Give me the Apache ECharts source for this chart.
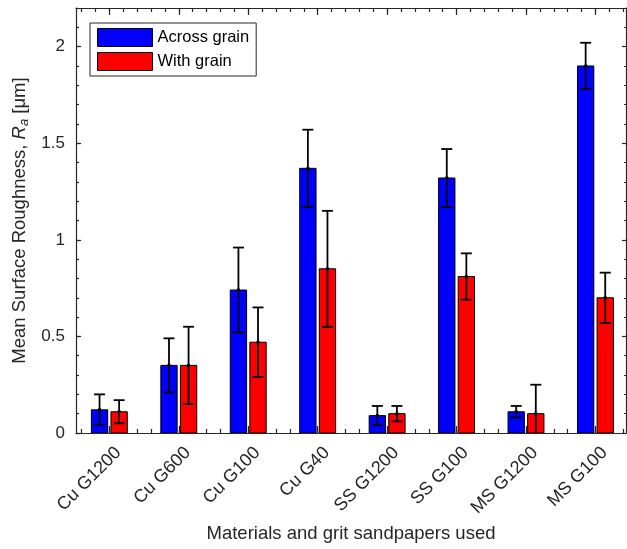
<!DOCTYPE html>
<html>
<head>
<meta charset="utf-8">
<script src="https://cdn.jsdelivr.net/npm/echarts@6/dist/echarts.min.js"></script>
<style>
html, body { margin: 0; padding: 0; background: #fff; }
#chart { width: 627px; height: 549px; }
</style>
</head>
<body>
<div id="chart"></div>
<script>
// categories and measured means with error bar limits
var categories = ['Cu G1200', 'Cu G600', 'Cu G100', 'Cu G40', 'SS G1200', 'SS G100', 'MS G1200', 'MS G100'];
var acrossMean = [0.12, 0.35, 0.74, 1.37, 0.09, 1.32, 0.11, 1.90];
var acrossLow  = [0.04, 0.21, 0.52, 1.17, 0.04, 1.17, 0.08, 1.78];
var acrossHigh = [0.20, 0.49, 0.96, 1.57, 0.14, 1.47, 0.14, 2.02];
var withMean = [0.11, 0.35, 0.47, 0.85, 0.10, 0.81, 0.10, 0.70];
var withLow  = [0.05, 0.15, 0.29, 0.55, 0.06, 0.69, -0.05, 0.57];
var withHigh = [0.17, 0.55, 0.65, 1.15, 0.14, 0.93, 0.25, 0.83];
var yTicks = [0, 0.5, 1, 1.5, 2];
var xTicks = [1, 2, 3, 4, 5, 6, 7, 8];

var FONT = 'Liberation Sans, Arial, Helvetica, sans-serif';
var AX = '#262626';
var X_MIN = 0.52, X_MAX = 8.44;
var LABEL_SHIFT = 0.13;

var yMinor = [];
for (var i = 0; i <= 22; i++) yMinor.push(+(i * 0.1).toFixed(1));
var xMinor = [];
for (var j = 3; j <= 42; j++) xMinor.push(+(j * 0.2).toFixed(1));
var xLabelPos = xTicks.map(function (v) { return v + LABEL_SHIFT; });

function rows(mean, low, high) {
	return mean.map(function (v, k) { return [k + 1, v, low[k], high[k]]; });
}

function barRenderer(shift) {
	return function (params, api) {
		var unit = api.size([1, 0])[0];
		var x = api.value(0) + shift;
		var top = api.coord([x, api.value(1)]);
		var base = api.coord([x, 0]);
		var w = unit * 0.235;
		return {
			type: 'rect',
			shape: { x: top[0] - w / 2, y: top[1], width: w, height: base[1] - top[1] },
			style: api.style()
		};
	};
}

function errRenderer(shift) {
	return function (params, api) {
		var x = api.value(0) + shift;
		var mid = api.coord([x, api.value(1)]);
		var lo = api.coord([x, api.value(2)]);
		var hi = api.coord([x, api.value(3)]);
		var cap = 5.5;
		var st = { stroke: '#000', lineWidth: 1.8, fill: null };
		return {
			type: 'group',
			children: [
				{ type: 'line', shape: { x1: lo[0], y1: lo[1], x2: hi[0], y2: hi[1] }, style: st },
				{ type: 'line', shape: { x1: hi[0] - cap, y1: hi[1], x2: hi[0] + cap, y2: hi[1] }, style: st },
				{ type: 'line', shape: { x1: lo[0] - cap, y1: lo[1], x2: lo[0] + cap, y2: lo[1] }, style: st },
				{ type: 'circle', shape: { cx: mid[0], cy: mid[1], r: 1.8 }, style: { fill: '#000' } }
			]
		};
	};
}

function xAxisDef(pos, values, len, line, labels) {
	return {
		type: 'value', position: pos, min: X_MIN, max: X_MAX,
		axisLine: { show: line, onZero: false, lineStyle: { color: AX, width: 1.2 } },
		splitLine: { show: false },
		axisTick: { show: true, inside: true, length: len, customValues: values, lineStyle: { color: AX, width: 1.2 } },
		axisLabel: labels ? {
			customValues: xLabelPos,
			formatter: function (v) { return categories[Math.round(v - LABEL_SHIFT) - 1]; },
			rotate: 45, margin: 17, fontSize: 18, color: AX, fontFamily: FONT
		} : { show: false }
	};
}

function yAxisDef(pos, values, len, line, labels) {
	return {
		type: 'value', position: pos, min: 0, max: 2.2,
		axisLine: { show: line, onZero: false, lineStyle: { color: AX, width: 1.2 } },
		splitLine: { show: false },
		axisTick: { show: true, inside: true, length: len, customValues: values, lineStyle: { color: AX, width: 1.2 } },
		axisLabel: labels ? {
			customValues: yTicks,
			formatter: function (v) { return String(v); },
			margin: 11, fontSize: 17, color: AX, fontFamily: FONT
		} : { show: false }
	};
}

var xBottom = xAxisDef('bottom', xTicks, 7, true, true);
xBottom.name = 'Materials and grit sandpapers used';
xBottom.nameLocation = 'middle';
xBottom.nameGap = 90;
xBottom.nameTextStyle = { fontSize: 18.5, color: AX, fontFamily: FONT };

var yLeft = yAxisDef('left', yTicks, 5, true, true);
yLeft.name = 'Mean Surface Roughness, {i|R}{s|a} [μm]';
yLeft.nameLocation = 'middle';
yLeft.nameGap = 43;
yLeft.nameRotate = 90;
yLeft.nameTextStyle = {
	fontSize: 18.5, color: AX, fontFamily: FONT,
	rich: {
		i: { fontSize: 18.5, fontStyle: 'italic', color: AX, fontFamily: FONT },
		s: { fontSize: 13, fontStyle: 'italic', color: AX, fontFamily: FONT, verticalAlign: 'bottom', padding: [8, 0, 0, 0] }
	}
};

var myChart = echarts.init(document.getElementById('chart'), null, { renderer: 'canvas' });

var option = {
	animation: false,
	backgroundColor: '#fff',
	grid: { left: 76, right: 1, top: 8, bottom: 116, containLabel: false },
	legend: {
		data: ['Across grain', 'With grain'],
		orient: 'vertical', left: 90, top: 23,
		padding: [5, 7, 5, 7], itemGap: 5,
		itemWidth: 55, itemHeight: 18, icon: 'rect',
		backgroundColor: '#fff', borderColor: AX, borderWidth: 1, borderRadius: 0,
		itemStyle: { borderColor: '#000', borderWidth: 1 },
		textStyle: { fontSize: 16.5, color: '#000', fontFamily: FONT }
	},
	xAxis: [
		xBottom,
		xAxisDef('bottom', xMinor, 4, false, false),
		xAxisDef('top', xTicks, 7, true, false),
		xAxisDef('top', xMinor, 4, false, false)
	],
	yAxis: [
		yLeft,
		yAxisDef('left', yMinor, 3, false, false),
		yAxisDef('right', yTicks, 4, true, false),
		yAxisDef('right', yMinor, 2, false, false)
	],
	series: [
		{
			name: 'Across grain', type: 'custom', coordinateSystem: 'cartesian2d',
			xAxisIndex: 0, yAxisIndex: 0, clip: true,
			itemStyle: { color: '#0000ff', borderColor: '#000', borderWidth: 1 },
			renderItem: barRenderer(-0.141),
			encode: { x: 0, y: 1 },
			data: rows(acrossMean, acrossLow, acrossHigh)
		},
		{
			name: 'With grain', type: 'custom', coordinateSystem: 'cartesian2d',
			xAxisIndex: 0, yAxisIndex: 0, clip: true,
			itemStyle: { color: '#ff0000', borderColor: '#000', borderWidth: 1 },
			renderItem: barRenderer(0.141),
			encode: { x: 0, y: 1 },
			data: rows(withMean, withLow, withHigh)
		},
		{
			name: 'err across', type: 'custom', coordinateSystem: 'cartesian2d',
			xAxisIndex: 0, yAxisIndex: 0, clip: true,
			renderItem: errRenderer(-0.141),
			encode: { x: 0, y: 1 },
			data: rows(acrossMean, acrossLow, acrossHigh)
		},
		{
			name: 'err with', type: 'custom', coordinateSystem: 'cartesian2d',
			xAxisIndex: 0, yAxisIndex: 0, clip: true,
			renderItem: errRenderer(0.141),
			encode: { x: 0, y: 1 },
			data: rows(withMean, withLow, withHigh)
		}
	]
};

myChart.setOption(option);
</script>
</body>
</html>
